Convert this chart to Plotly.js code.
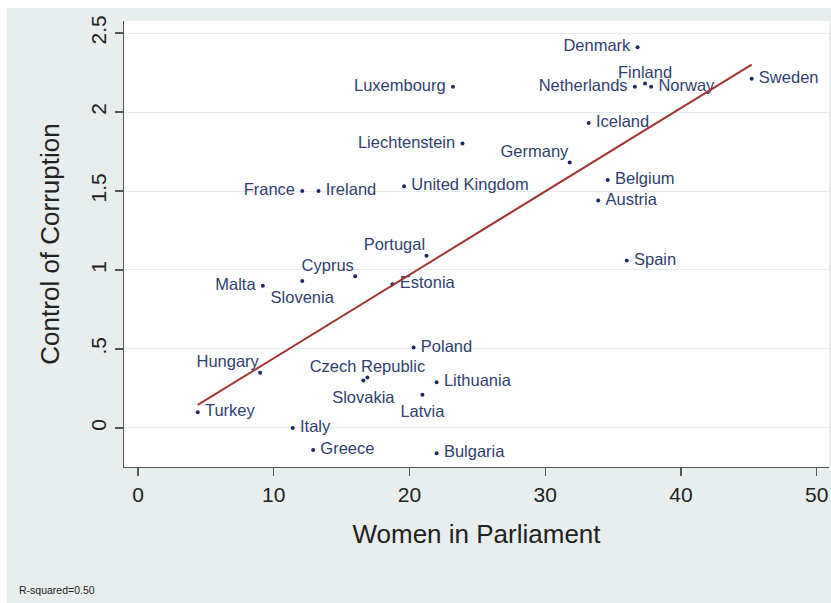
<!DOCTYPE html>
<html>
<head>
<meta charset="utf-8">
<script src="https://cdn.plot.ly/plotly-3.0.1.min.js"></script>
<style>
  html, body { margin: 0; padding: 0; background: #ffffff; }
  #wrap { position: relative; width: 831px; height: 603px; background: #ffffff; overflow: hidden; }
  #plot { position: absolute; left: 7px; top: 8px; width: 824px; height: 595px; }
</style>
</head>
<body>
<div id="wrap"><div id="plot"></div></div>
<script>
// ---- data ----
const countries = ["Denmark","Finland","Norway","Netherlands","Sweden","Luxembourg","Liechtenstein","Iceland","Germany","Belgium","Austria","United Kingdom","France","Ireland","Spain","Portugal","Cyprus","Slovenia","Malta","Estonia","Poland","Hungary","Czech Republic","Slovakia","Lithuania","Latvia","Turkey","Italy","Greece","Bulgaria"];
const womenInParliament = [36.8,37.35,37.8,36.6,45.2,23.2,23.9,33.2,31.8,34.6,33.9,19.6,12.1,13.3,36.0,21.25,16.0,12.1,9.2,18.75,20.3,9.0,16.9,16.6,22.0,20.95,4.4,11.4,12.9,22.0];
const controlOfCorruption = [2.41,2.18,2.16,2.16,2.21,2.16,1.80,1.93,1.68,1.57,1.44,1.53,1.50,1.50,1.06,1.09,0.96,0.93,0.90,0.91,0.51,0.35,0.32,0.30,0.29,0.21,0.10,0.0,-0.14,-0.16];
const fitX = [4.4, 45.2];
const fitY = [0.146, 2.30];
const xTicks = [0,10,20,30,40,50];
const yTicks = [0,0.5,1,1.5,2,2.5];
const yTickLabels = ["0",".5","1","1.5","2","2.5"];
const rSquaredText = "R-squared=0.50";

// ---- label placement (style) ----
const labelPlacement = {
  "Denmark":"middle left","Finland":"top center","Norway":"middle right","Netherlands":"middle left",
  "Sweden":"middle right","Luxembourg":"middle left","Liechtenstein":"middle left","Iceland":"middle right",
  "Germany":"top left","Belgium":"middle right","Austria":"middle right","United Kingdom":"middle right",
  "France":"middle left","Ireland":"middle right","Spain":"middle right","Portugal":"top left",
  "Cyprus":"top left","Slovenia":"bottom center","Malta":"middle left","Estonia":"middle right",
  "Poland":"middle right","Hungary":"top left","Czech Republic":"top center","Slovakia":"bottom center",
  "Lithuania":"middle right","Latvia":"bottom center","Turkey":"middle right","Italy":"middle right",
  "Greece":"middle right","Bulgaria":"middle right"
};

const FONT = "Liberation Sans, Arial, Helvetica, sans-serif";

// one label trace per placement group; the invisible marker size sets the gap to the dot
function labelTrace(test, gapSize) {
  const idx = countries.map((c, i) => i).filter(i => test(labelPlacement[countries[i]]));
  return {
    type: "scatter",
    mode: "markers+text",
    x: idx.map(i => womenInParliament[i]),
    y: idx.map(i => controlOfCorruption[i]),
    text: idx.map(i => countries[i]),
    textposition: idx.map(i => labelPlacement[countries[i]]),
    textfont: { family: FONT, size: 16.5, color: "#2f3f6e" },
    marker: { size: gapSize, color: "rgba(0,0,0,0)" },
    hoverinfo: "skip",
    showlegend: false,
    cliponaxis: false
  };
}
const sideLabels = labelTrace(p => p.startsWith("middle"), 10);
const topLabels = labelTrace(p => p.startsWith("top"), 0.5);
const bottomLabels = labelTrace(p => p.startsWith("bottom"), 14);

const points = {
  type: "scatter",
  mode: "markers",
  x: womenInParliament,
  y: controlOfCorruption,
  text: countries,
  marker: { size: 4, color: "#1c2b5e" },
  hoverinfo: "text+x+y",
  showlegend: false
};

const fit = {
  type: "scatter",
  mode: "lines",
  x: fitX,
  y: fitY,
  line: { color: "#a13434", width: 2 },
  hoverinfo: "skip",
  showlegend: false
};

const layout = {
  width: 824,
  height: 595,
  margin: { l: 117, r: 2, t: 13, b: 136, pad: 0 },
  paper_bgcolor: "#e8eeee",
  plot_bgcolor: "#ffffff",
  font: { family: FONT, color: "#222222" },
  showlegend: false,
  xaxis: {
    range: [-1.03, 50.9],
    tickvals: xTicks,
    ticks: "outside",
    ticklen: 8,
    tickwidth: 1.3,
    tickcolor: "#555555",
    showline: true,
    linecolor: "#555555",
    linewidth: 1.3,
    showgrid: false,
    zeroline: false,
    automargin: false,
    tickfont: { family: FONT, size: 21, color: "#222222" },
    title: { text: "Women in Parliament", font: { family: FONT, size: 26, color: "#222222" }, standoff: 20 }
  },
  yaxis: {
    range: [-0.247, 2.576],
    tickvals: yTicks,
    ticktext: yTickLabels,
    tickangle: -90,
    ticks: "outside",
    ticklen: 8,
    tickwidth: 1.3,
    tickcolor: "#555555",
    showline: true,
    linecolor: "#555555",
    linewidth: 1.3,
    showgrid: true,
    gridcolor: "#e4ecee",
    gridwidth: 1,
    zeroline: false,
    automargin: false,
    tickfont: { family: FONT, size: 21, color: "#222222" },
    title: { text: "Control of Corruption", font: { family: FONT, size: 26, color: "#222222" }, standoff: 20 }
  },
  annotations: [{
    text: rSquaredText,
    xref: "paper", yref: "paper",
    x: -0.1518, y: -0.2758,
    xanchor: "left", yanchor: "middle",
    showarrow: false,
    font: { family: FONT, size: 10.5, color: "#222222" }
  }]
};

Plotly.newPlot("plot", [sideLabels, topLabels, bottomLabels, points, fit], layout, { displayModeBar: false, staticPlot: true });
</script>
</body>
</html>
